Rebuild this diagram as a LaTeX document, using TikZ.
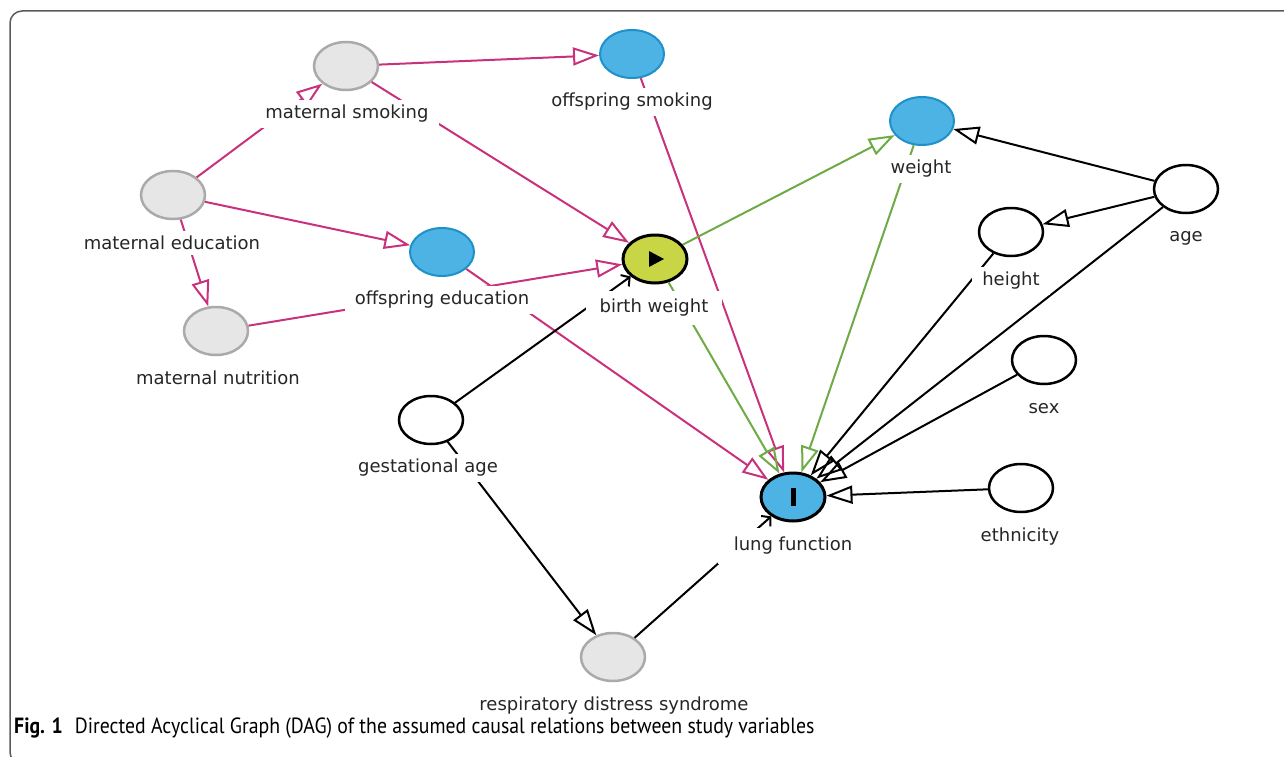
\documentclass[tikz,border=0pt]{standalone}
\usepackage{fontspec}
\usepackage{graphicx}
\setmainfont{DejaVu Sans}
\newfontfamily\capfont{PT Sans}
\usetikzlibrary{shapes.geometric,arrows.meta}
\definecolor{pinkE}{RGB}{200,50,125}
\definecolor{greenE}{RGB}{110,170,70}
\definecolor{blueN}{RGB}{77,178,228}
\definecolor{blueB}{RGB}{30,145,200}
\definecolor{yellowN}{RGB}{200,214,70}
\definecolor{greyN}{RGB}{230,230,230}
\definecolor{greyB}{RGB}{170,170,170}
\definecolor{frameC}{RGB}{90,90,90}
\tikzset{
  basenode/.style={ellipse, minimum width=64pt, minimum height=48pt, inner sep=0pt},
  gnode/.style={basenode, fill=greyN, draw=greyB, line width=2.5pt},
  bnode/.style={basenode, fill=blueN, draw=blueB, line width=2pt},
  wnode/.style={basenode, fill=white, draw=black, line width=2.5pt},
  knode/.style={basenode, draw=black, line width=3pt},
  lab/.style={fill=white, inner xsep=10pt, inner ysep=5pt, font=\fontsize{18}{20}\selectfont, text=black!85},
  tri/.style={-{Triangle[open,length=26pt,width=18pt]}, line width=2pt},
  pe/.style={tri, draw=pinkE},
  ge/.style={tri, draw=greenE},
  ke/.style={tri, draw=black},
  barb/.style={-{Straight Barb[length=6pt,width=14pt]}, line width=2pt, draw=black},
}
\begin{document}
\begin{tikzpicture}[x=1pt,y=-1pt]
\useasboundingbox (0,0) rectangle (1284,757);
% frame
\draw[frameC, line width=1.5pt, rounded corners=12pt] (1300,11) -- (10,11) -- (10,764) -- (40,764);
% nodes
\node[gnode] (ms) at (346,66) {};
\node[gnode] (me) at (173,195) {};
\node[gnode] (mn) at (216,331) {};
\node[bnode] (os) at (632,54) {};
\node[bnode] (oe) at (442,252) {};
\node[knode, fill=yellowN] (bw) at (655,259) {};
\node[bnode] (w) at (922,121) {};
\node[wnode] (age) at (1186,189) {};
\node[wnode] (h) at (1011,232) {};
\node[wnode] (sex) at (1044,360) {};
\node[wnode] (eth) at (1021,488) {};
\node[knode, fill=blueN] (lf) at (793,497) {};
\node[wnode] (ga) at (431,420) {};
\node[gnode] (rds) at (613,657) {};
% edges pink
\draw[pe] (me) -- (ms);
\draw[pe] (me) -- (oe);
\draw[pe] (me) -- (mn);
\draw[pe] (ms) -- (os);
\draw[pe] (ms) -- (bw);
\draw[pe] (mn) -- (bw);
\draw[pe] (oe) -- (lf);
\draw[pe] (os) -- (lf);
% edges green
\draw[ge] (bw) -- (w);
\draw[ge] (bw) -- (lf);
\draw[ge] (w) -- (lf);
% edges black
\draw[ke] (age) -- (w);
\draw[ke] (age) -- (h);
\draw[ke] (age) -- (lf);
\draw[ke] (h) -- (lf);
\draw[ke] (sex) -- (lf);
\draw[ke] (eth) -- (lf);
\draw[ke] (ga) -- (rds);
\draw[barb] (ga) -- (bw);
\draw[barb] (rds) -- (lf);
% labels
\node[lab] (msl) at (347,114) {maternal smoking};
\node[lab] (mel) at (172,243) {maternal education};
\node[lab] (mnl) at (218,378) {maternal nutrition};
\node[lab] (osl) at (632,102) {offspring smoking};
\node[lab] (oel) at (442,300) {offspring education};
\node[lab, inner xsep=14pt, inner ysep=8pt] (bwl) at (654,308) {birth weight};
\node[lab] (wl) at (921,169) {weight};
\node[lab] (agel) at (1186,238) {age};
\node[lab] (hl) at (1011,281) {height};
\node[lab] (sexl) at (1044,409) {sex};
\node[lab] (ethl) at (1020,537) {ethnicity};
\node[lab, inner xsep=16pt, inner ysep=9pt] (lfl) at (793,546) {lung function};
\node[lab] (gal) at (428,468) {gestational age};
\node[lab] (rdsl) at (614,706) {respiratory distress syndrome};
% symbols
\fill[black] ([shift={(-6,-8)}]bw.center) -- ([shift={(9,0)}]bw.center) -- ([shift={(-6,8)}]bw.center) -- cycle;
\fill[black] ([shift={(-2.5,-9)}]lf.center) rectangle ([shift={(2.5,9)}]lf.center);
% caption
\node[anchor=west, inner sep=0pt] (cap) at (14,728) {\scalebox{0.9}[1]{\capfont\fontsize{22}{26}\selectfont\textbf{Fig. 1}\hspace{0.6em}Directed Acyclical Graph (DAG) of the assumed causal relations between study variables}};
\end{tikzpicture}
\end{document}
